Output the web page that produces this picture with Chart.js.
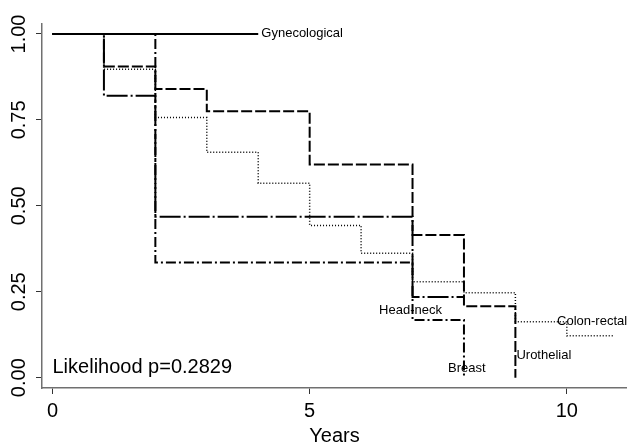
<!DOCTYPE html>
<html>
<head>
<meta charset="utf-8">
<script src="https://cdn.jsdelivr.net/npm/chart.js@4/dist/chart.umd.min.js"></script>
<style>
  html, body { margin: 0; padding: 0; background: #fff; }
  #wrap { width: 627px; height: 446px; }
</style>
</head>
<body>
<div id="wrap"><canvas id="km" width="627" height="446"></canvas></div>
<script>
// Kaplan-Meier survival estimates by tumour site (time in years)
const gynTimes = [0, 4];
const gynSurv  = [1, 1];

const uroTimes = [0, 1, 2, 3, 5, 7, 8, 9];
const uroSurv  = [1, 0.905, 0.84, 0.775, 0.62, 0.415, 0.208, 0];

const colTimes = [0, 1, 2, 3, 4, 5, 6, 7, 8, 9, 10, 10.93];
const colSurv  = [1, 0.897, 0.757, 0.656, 0.566, 0.443, 0.362, 0.279, 0.247, 0.163, 0.122, 0.122];

const hnTimes = [0, 1, 2, 7, 8];
const hnSurv  = [1, 0.82, 0.468, 0.235, 0.235];

const brTimes = [0, 2, 7, 8];
const brSurv  = [1, 0.335, 0.168, 0];

const yTickValues = [0, 0.25, 0.5, 0.75, 1];
const xTickValues = [0, 5, 10];

// Curve labels, anchored in data units
const curveLabels = [
  { text: 'Gynecological', x: 4.06, y: 1.003 },
  { text: 'Head-neck',     x: 6.35, y: 0.195 },
  { text: 'Breast',        x: 7.69, y: 0.027 },
  { text: 'Urothelial',    x: 9.02, y: 0.066 },
  { text: 'Colon-rectal',  x: 9.81, y: 0.163 }
];
const testLabel = { text: 'Likelihood p=0.2829', x: 0, y: 0.03 };

const FONT = '"Liberation Sans", Arial, sans-serif';

function pts(t, s) { return t.map((v, i) => ({ x: v, y: s[i] })); }

function series(label, t, s, dash, width) {
  return {
    label: label,
    data: pts(t, s),
    stepped: true,
    borderColor: '#000',
    borderWidth: width,
    borderDash: dash,
    borderCapStyle: 'butt',
    pointRadius: 0,
    fill: false
  };
}

const labelPlugin = {
  id: 'curveLabels',
  afterDatasetsDraw(chart) {
    const { ctx, scales: { x, y } } = chart;
    ctx.save();
    ctx.fillStyle = '#000';
    ctx.textAlign = 'left';
    ctx.textBaseline = 'middle';
    ctx.font = '13px ' + FONT;
    curveLabels.forEach(l => {
      ctx.fillText(l.text, x.getPixelForValue(l.x), y.getPixelForValue(l.y));
    });
    ctx.font = '20px ' + FONT;
    ctx.fillText(testLabel.text, x.getPixelForValue(testLabel.x), y.getPixelForValue(testLabel.y));
    ctx.restore();
  }
};

new Chart(document.getElementById('km'), {
  type: 'line',
  data: {
    datasets: [
      series('Gynecological', gynTimes, gynSurv, [], 2),
      series('Urothelial', uroTimes, uroSurv, [11, 3], 2),
      series('Colon-rectal', colTimes, colSurv, [1, 2], 1.5),
      series('Head-neck', hnTimes, hnSurv, [21, 3, 2, 3], 2),
      series('Breast', brTimes, brSurv, [10, 3, 2, 3], 2)
    ]
  },
  options: {
    responsive: false,
    animation: false,
    events: [],
    layout: { padding: { top: 24, left: 0, right: 0, bottom: 0 } },
    plugins: { legend: { display: false }, tooltip: { enabled: false }, title: { display: false } },
    scales: {
      x: {
        type: 'linear',
        min: -0.204,
        max: 11.17,
        afterBuildTicks(scale) { scale.ticks = xTickValues.map(v => ({ value: v })); },
        afterFit(scale) { scale.height = 58; },
        border: { display: true, color: '#707070', width: 1.5 },
        grid: { drawOnChartArea: false, drawTicks: true, tickLength: 6, color: '#333', lineWidth: 1 },
        ticks: { color: '#000', font: { family: FONT, size: 20 }, padding: 5, maxRotation: 0, autoSkip: false },
        title: { display: true, text: 'Years', color: '#000', font: { family: FONT, size: 20, lineHeight: 1 }, padding: { top: 0, bottom: 0 } }
      },
      y: {
        type: 'linear',
        min: -0.03,
        max: 1.029,
        afterBuildTicks(scale) { scale.ticks = yTickValues.map(v => ({ value: v })); },
        afterFit(scale) { scale.width = 42; },
        border: { display: true, color: '#707070', width: 1.5 },
        grid: { drawOnChartArea: false, drawTicks: true, tickLength: 6, color: '#333', lineWidth: 1 },
        ticks: {
          color: '#000',
          font: { family: FONT, size: 20 },
          minRotation: 90,
          maxRotation: 90,
          crossAlign: 'center',
          padding: -3,
          autoSkip: false,
          callback: v => Number(v).toFixed(2)
        }
      }
    }
  },
  plugins: [labelPlugin]
});
</script>
</body>
</html>
